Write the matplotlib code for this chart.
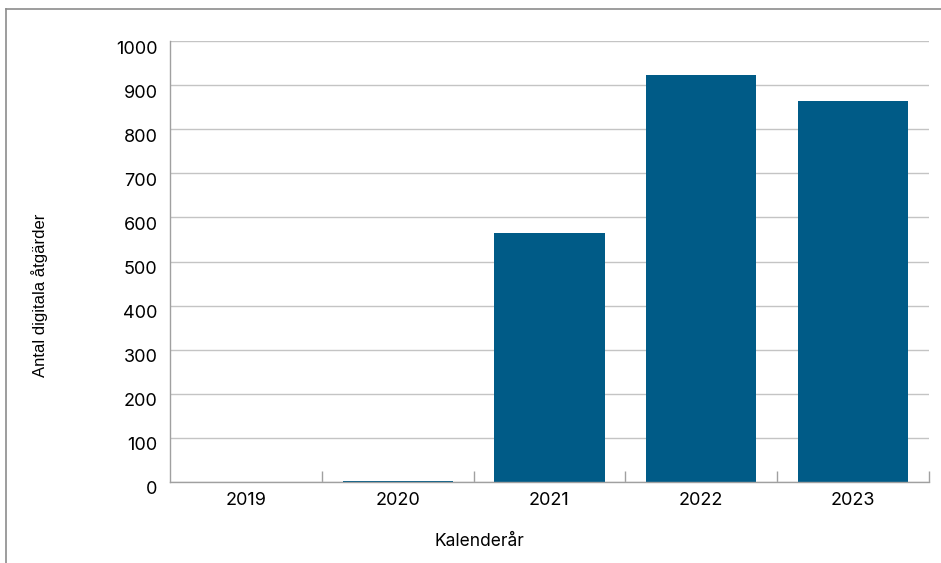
import matplotlib
matplotlib.use("Agg")
import matplotlib.pyplot as plt  # noqa: E402
from matplotlib.lines import Line2D  # noqa: E402
from matplotlib.transforms import ScaledTranslation  # noqa: E402

years = ["2019", "2020", "2021", "2022", "2023"]
counts = [0.5, 2, 565, 923, 864]
yticks = [0, 100, 200, 300, 400, 500, 600, 700, 800, 900, 1000]

BAR = "#005b87"
GRID = "#c4c4c4"
AXIS = "#a0a0a0"
FS = 13

fig = plt.figure(figsize=(9.41, 5.63), dpi=100)
ax = fig.add_axes([170 / 941, 81 / 563, 759 / 941, 441 / 563])

x = list(range(len(years)))
ax.bar(x, counts, width=0.725, color=BAR, zorder=3)

ax.set_xlim(-0.5, len(years) - 0.5)
ax.set_ylim(0, 1000)
ax.set_yticks(yticks)
ax.set_yticklabels([str(v) for v in yticks], fontfamily="Inter", fontsize=FS)
ax.set_xticks(x)
ax.set_xticklabels(years, fontfamily="Inter", fontsize=FS)
ax.tick_params(axis="x", length=0, pad=7)
ax.tick_params(axis="y", length=0, pad=9)

# y labels sit a little below their gridlines in the reference
shift = ScaledTranslation(0, -6 / 100, fig.dpi_scale_trans)
for lab in ax.get_yticklabels():
    lab.set_transform(lab.get_transform() + shift)

# category separators, drawn as minor ticks pointing inward
ax.set_xticks([i + 0.5 for i in x], minor=True)
ax.tick_params(axis="x", which="minor", direction="in", length=8,
               color=AXIS, width=1)

ax.grid(axis="y", color=GRID, linewidth=1, zorder=0)
for side in ("top", "right"):
    ax.spines[side].set_visible(False)
for side in ("left", "bottom"):
    ax.spines[side].set_color(AXIS)
    ax.spines[side].set_linewidth(1)
    ax.spines[side].set_zorder(4)

fig.text(479 / 941, 1 - 542 / 563, "Kalenderår", ha="center", va="center",
         fontfamily="Inter", fontsize=12.5)
fig.text(40 / 941, 1 - 295 / 563, "Antal digitala åtgärder", ha="center",
         va="center", rotation=90, fontfamily="Liberation Sans", fontsize=12)

# outer frame (top and left edge only)
top = 1 - 9 / 563
left = 6 / 941
fig.add_artist(Line2D([left, 1], [top, top], color="#8c8c8c", linewidth=1.2,
                      transform=fig.transFigure))
fig.add_artist(Line2D([left, left], [0, top], color="#8c8c8c", linewidth=1.2,
                      transform=fig.transFigure))

fig.savefig("out.png", dpi=100)
